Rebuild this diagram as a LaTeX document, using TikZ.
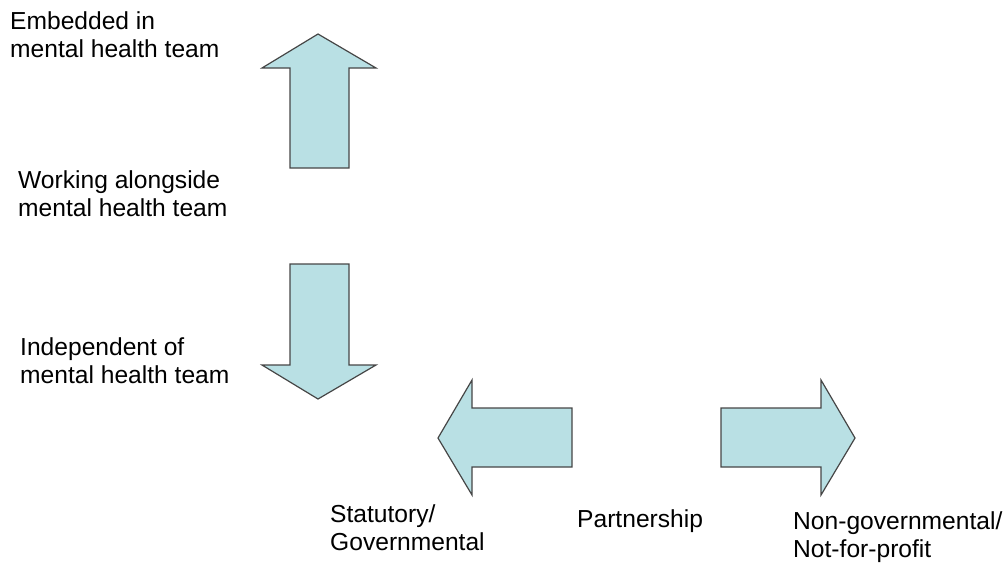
\documentclass[tikz,border=0pt]{standalone}
\usepackage{fontspec}
\setmainfont{Liberation Sans}
\usepackage{xcolor}
\usepackage{tikz}
\usetikzlibrary{positioning}

\definecolor{arrowfill}{RGB}{185,224,228}
\definecolor{arrowline}{RGB}{70,70,70}

\begin{document}
\begin{tikzpicture}[x=1pt, y=-1pt,
  blockarrow/.style={draw=arrowline, fill=arrowfill, line width=1.2pt, line join=miter},
  axislabel/.style={anchor=base west, inner sep=0pt, align=left, font=\fontsize{24.6}{27.5}\selectfont}]
  \useasboundingbox (0,0) rectangle (1008,563);
  % vertical axis
  \node[axislabel] (embedded) at (10,57) {Embedded in\\mental health team};
  \node[axislabel] (alongside) at (18,216) {Working alongside\\mental health team};
  \node[axislabel] (independent) at (20,383) {Independent of\\mental health team};
  \draw[blockarrow] (290,168) -- (290,68) -- (262,68) -- (318,34) -- (376,68) -- (349,68) -- (349,168) -- cycle;
  \draw[blockarrow] (290,264) -- (349,264) -- (349,365) -- (376,365) -- (318,399) -- (262,365) -- (290,365) -- cycle;
  % horizontal axis
  \node[axislabel] (statutory) at (330,550) {Statutory/\\Governmental};
  \node[axislabel] (partnership) at (577,527) {Partnership};
  \node[axislabel] (nongov) at (793,557) {Non-governmental/\\Not-for-profit};
  \draw[blockarrow] (572,408) -- (472,408) -- (472,380) -- (438,438) -- (472,495) -- (472,467) -- (572,467) -- cycle;
  \draw[blockarrow] (721,408) -- (821,408) -- (821,380) -- (855,438) -- (821,495) -- (821,467) -- (721,467) -- cycle;
\end{tikzpicture}
\end{document}
